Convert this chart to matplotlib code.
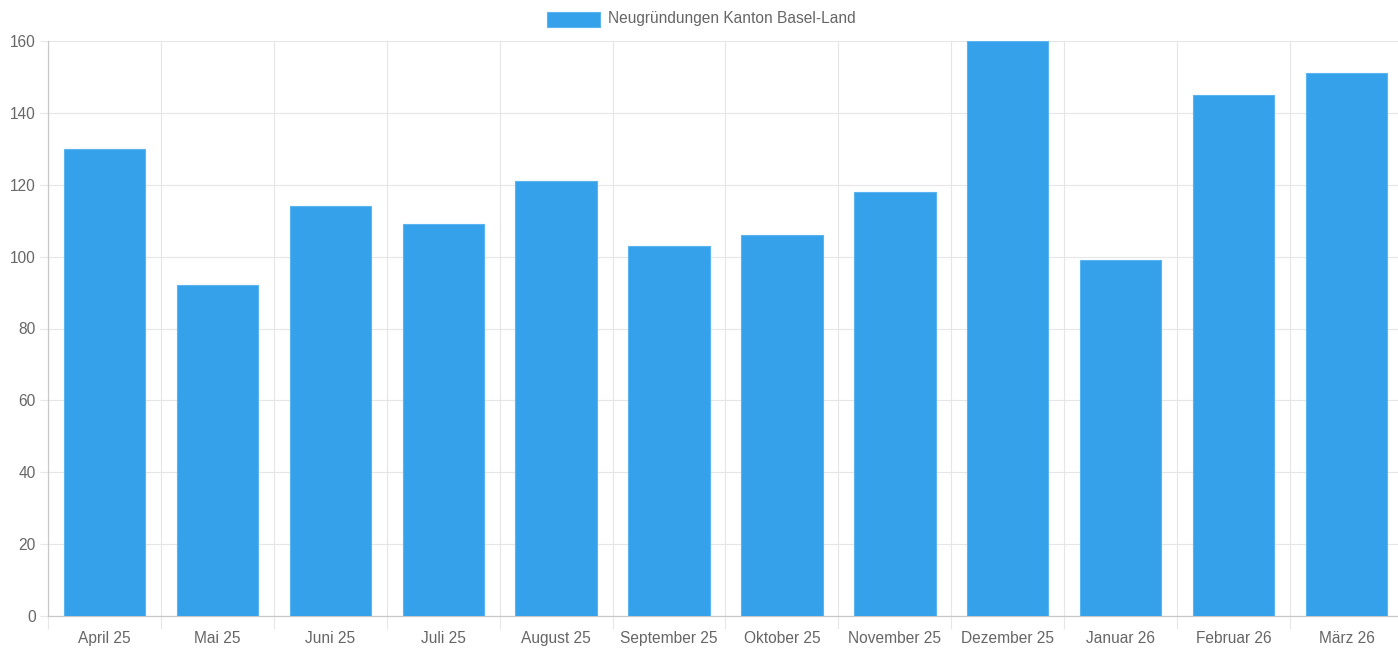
import numpy as np
import matplotlib
matplotlib.use('Agg')
import matplotlib.pyplot as plt
import matplotlib.patches as mpatches

months = ['April 25', 'Mai 25', 'Juni 25', 'Juli 25', 'August 25', 'September 25',
          'Oktober 25', 'November 25', 'Dezember 25', 'Januar 26', 'Februar 26', 'März 26']
counts = [130, 92, 114, 109, 121, 103, 106, 118, 160, 99, 145, 151]
y_ticks = [0, 20, 40, 60, 80, 100, 120, 140, 160]
series_label = 'Neugründungen Kanton Basel-Land'

plt.rcParams['font.family'] = ['Liberation Sans', 'DejaVu Sans']

bar_color = '#35a1ea'
grid_color = '#e6e6e6'
text_color = '#666666'
fs = 11.2

fig = plt.figure(figsize=(13.98, 6.48), dpi=100)
# the plot area runs a little past the right edge of the picture, as in the original
ax = fig.add_axes([48 / 1398, 32 / 648, 1355 / 1398, 575 / 648])

x = np.arange(len(months))
ax.bar(x, counts, width=0.72, color=bar_color, edgecolor='#5ab4ef', lw=0.8, zorder=3)

ax.set_xlim(-0.5, len(months) - 0.5)
ax.set_ylim(0, 160)

# category labels on major ticks, grid lines at category borders on minor ticks
ax.set_xticks(x)
ax.set_xticklabels(months)
ax.set_xticks(np.arange(-0.5, len(months) - 0.5, 1.0), minor=True)
ax.tick_params(axis='x', which='major', length=0, pad=11, labelsize=fs, labelcolor=text_color)
ax.tick_params(axis='x', which='minor', length=9, width=0.8, color=grid_color)
ax.grid(axis='x', which='minor', color=grid_color, lw=0.8, zorder=0)

ax.set_yticks(y_ticks)
ax.tick_params(axis='y', length=6, width=0.8, color=grid_color, pad=3,
               labelsize=fs, labelcolor=text_color)
ax.grid(axis='y', which='major', color=grid_color, lw=0.8, zorder=0)

for side in ['top', 'right']:
    ax.spines[side].set_visible(False)
for side in ['left', 'bottom']:
    ax.spines[side].set_color('#c8c8c8')
    ax.spines[side].set_linewidth(0.9)

# legend at the top, drawn as box + text
fig.patches.append(mpatches.Rectangle((547 / 1398, 1 - 27 / 648), 53 / 1398, 15 / 648,
                                      transform=fig.transFigure, facecolor=bar_color,
                                      edgecolor='#5ab4ef', lw=0.8))
fig.text(608 / 1398, 1 - 19 / 648, series_label, ha='left', va='center',
         fontsize=fs, color=text_color)

fig.savefig('out.png', dpi=100)
